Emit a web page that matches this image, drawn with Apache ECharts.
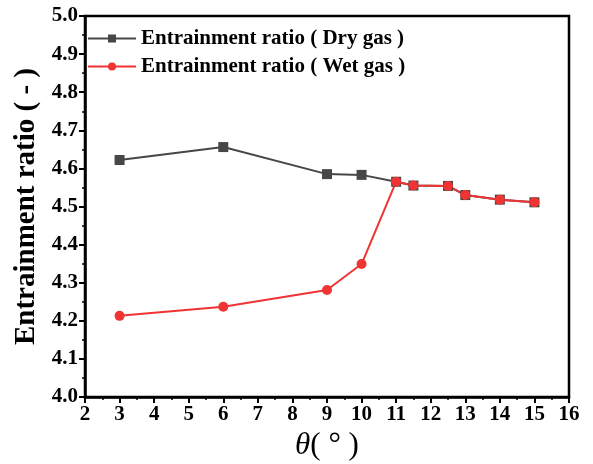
<!DOCTYPE html>
<html><head><meta charset="utf-8">
<script src="https://cdn.jsdelivr.net/npm/echarts@6/dist/echarts.min.js"></script>
<style>html,body{margin:0;padding:0;background:#fff}#c{width:593px;height:464px}</style>
</head><body><div id="c"></div>
<script>
const xDry = [3, 6, 9, 10, 11, 11.5, 12.5, 13, 14, 15];
const yDry = [4.622, 4.656, 4.585, 4.583, 4.565, 4.555, 4.554, 4.530, 4.518, 4.511];
const xWet = [3, 6, 9, 10, 11, 11.5, 12.5, 13, 14, 15];
const yWet = [4.213, 4.237, 4.281, 4.349, 4.565, 4.555, 4.554, 4.530, 4.518, 4.511];
const nameDry = 'Entrainment ratio ( Dry gas )';
const nameWet = 'Entrainment ratio ( Wet gas )';
const font = 'Liberation Serif';
const chart = echarts.init(document.getElementById('c'));
chart.setOption({
  animation: false,
  grid: {left: 85, right: 24, top: 16, bottom: 67, show: true, borderColor: '#000', borderWidth: 2.5, outerBoundsMode: 'none', containLabel: false},
  legend: {
    left: 82, top: 23, orient: 'vertical', itemGap: 7, itemWidth: 48, itemHeight: 10,
    textStyle: {fontFamily: font, fontWeight: 'bold', fontSize: 21, color: '#000'},
    data: [nameDry, nameWet]
  },
  xAxis: {
    type: 'value', min: 2, max: 16, interval: 1,
    name: '{i|θ}{n|( ° )}', nameLocation: 'middle', nameGap: 32,
    nameTextStyle: {rich: {i: {fontFamily: font, fontStyle: 'italic', fontSize: 31, color: '#000'}, n: {fontFamily: font, fontSize: 31, color: '#000'}}},
    axisLine: {lineStyle: {color: '#000', width: 2.5}},
    axisTick: {length: 6, lineStyle: {width: 2, color: '#000'}},
    minorTick: {show: true, splitNumber: 2, length: 3, lineStyle: {width: 1.5, color: '#000'}},
    splitLine: {show: false},
    axisLabel: {fontFamily: font, fontWeight: 'bold', fontSize: 21, color: '#000', margin: 7}
  },
  yAxis: {
    type: 'value', min: 4.0, max: 5.0, interval: 0.1,
    name: 'Entrainment ratio ( - )', nameLocation: 'middle', nameGap: 43,
    nameTextStyle: {fontFamily: font, fontWeight: 'bold', fontSize: 29, color: '#000'},
    axisLine: {lineStyle: {color: '#000', width: 2.5}},
    axisTick: {length: 6, lineStyle: {width: 2, color: '#000'}},
    minorTick: {show: true, splitNumber: 2, length: 3, lineStyle: {width: 1.5, color: '#000'}},
    splitLine: {show: false},
    axisLabel: {fontFamily: font, fontWeight: 'bold', fontSize: 21, color: '#000', margin: 7, formatter: v => v.toFixed(1)}
  },
  series: [
    {name: nameDry, type: 'line', data: xDry.map((x, i) => [x, yDry[i]]), symbol: 'rect', symbolSize: 10,
     itemStyle: {color: '#474747'}, lineStyle: {color: '#474747', width: 2}},
    {name: nameWet, type: 'line', data: xWet.map((x, i) => [x, yWet[i]]), symbol: 'circle', symbolSize: 10,
     itemStyle: {color: '#f03333'}, lineStyle: {color: '#f03333', width: 2}}
  ]
});
</script></body></html>
